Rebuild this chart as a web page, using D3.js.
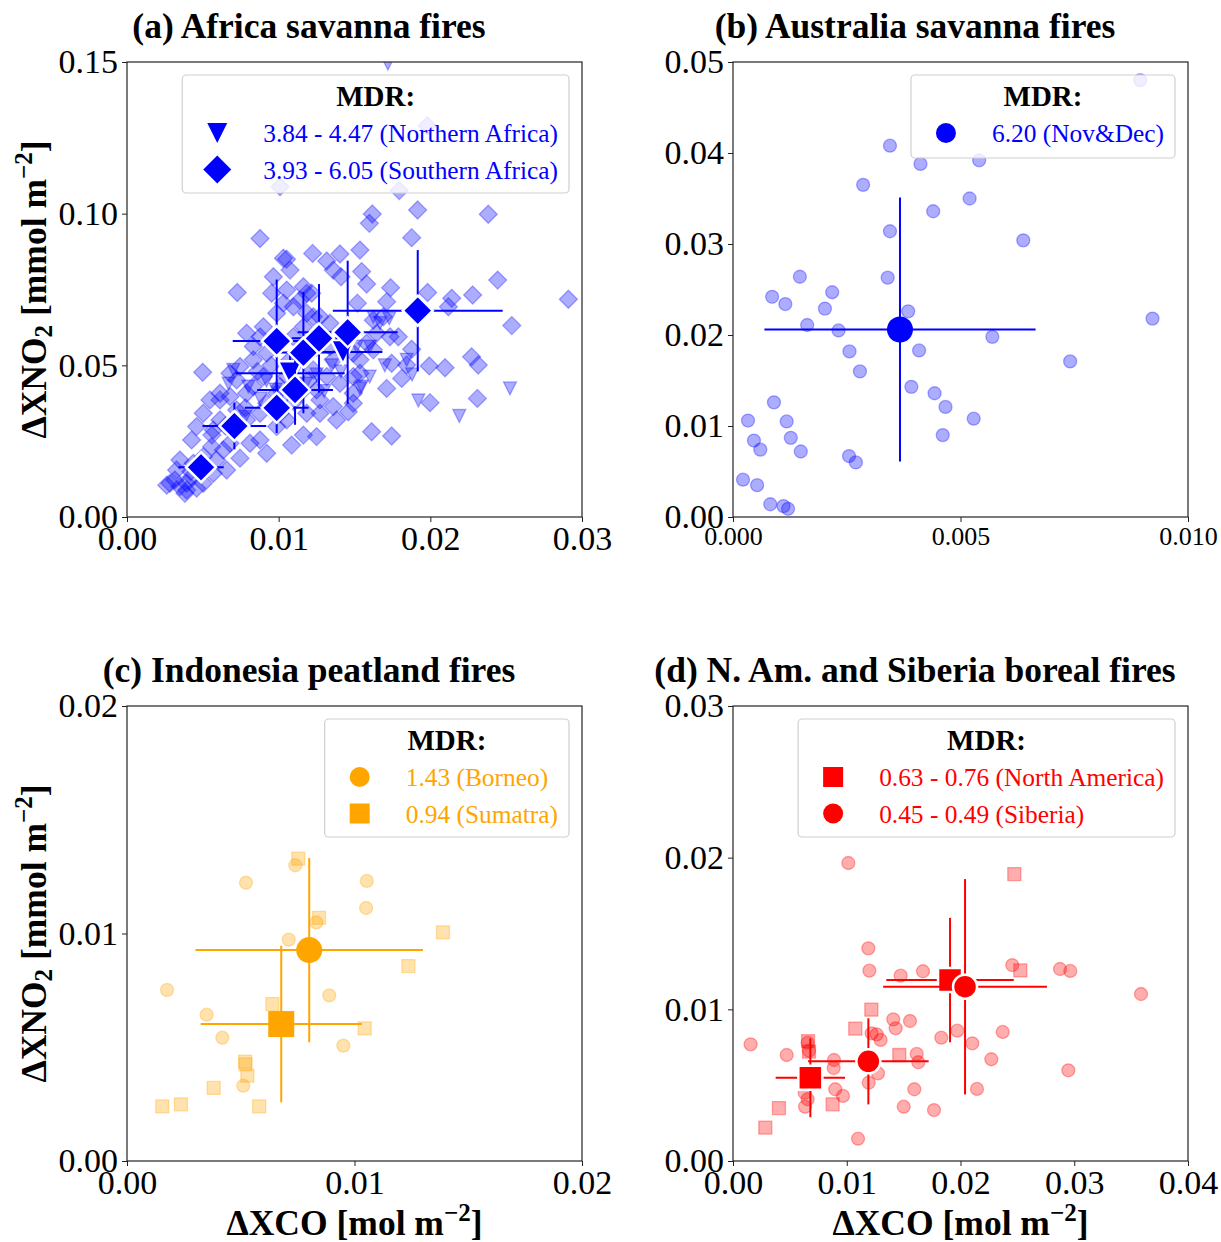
<!DOCTYPE html>
<html><head><meta charset="utf-8">
<script src="https://cdn.jsdelivr.net/npm/d3@7"></script>
<style>
body{margin:0;background:#fff}
svg{display:block}
text{font-family:"Liberation Serif","Times New Roman",serif}
</style>
</head><body>
<svg id="fig" width="1221" height="1242"></svg>
<script>
// ---- (a) Africa: individual fire events [ΔXCO, ΔXNO2] ----
const southAfricaPts = [
[0.01009,0.1089],[0.01795,0.1076],[0.0198,0.129],
[0.01617,0.0999],[0.01598,0.0968],[0.01916,0.1012],[0.02382,0.0998],[0.00877,0.0918],[0.01877,0.0921],
[0.01224,0.0869],[0.01031,0.0853],[0.01052,0.0850],[0.01317,0.0844],[0.01404,0.0867],[0.01536,0.0880],
[0.01360,0.0814],[0.01411,0.0792],[0.01547,0.0809],[0.01580,0.0768],[0.02444,0.0781],[0.01738,0.0756],
[0.00727,0.0740],[0.00965,0.0792],[0.01075,0.0814],[0.00954,0.0738],[0.01053,0.0748],[0.01163,0.0759],
[0.01218,0.0738],[0.01982,0.0740],[0.02141,0.0721],[0.02119,0.0693],[0.02279,0.0732],[0.02910,0.0718],
[0.02537,0.0631],[0.01519,0.0705],[0.01712,0.0710],[0.01734,0.0594],[0.01789,0.0594],[0.01877,0.0553],
[0.02272,0.0528],[0.02316,0.0501],[0.01993,0.0498],[0.02097,0.0492],[0.01745,0.0507],[0.01844,0.0501],
[0.01811,0.0457],[0.01712,0.0424],[0.01998,0.0377],[0.02310,0.0391],[0.01613,0.0281],[0.01745,0.0267],
[0.00499,0.0477],[0.01459,0.0347],[0.01382,0.0320],[0.01250,0.0265],[0.01163,0.0270],[0.01086,0.0237],
[0.00987,0.0298],[0.00877,0.0254],[0.00745,0.0194],[0.00657,0.0155],[0.00558,0.0232],[0.00426,0.0254],
[0.00283,0.0111],[0.00349,0.0100],[0.00382,0.0078],[0.00316,0.0122],[0.00393,0.0111],[0.00426,0.0133],
[0.00503,0.0111],[0.00591,0.0188],[0.00613,0.0320],[0.00723,0.0353],[0.00789,0.0408],[0.00723,0.0452],
[0.00833,0.0430],[0.00833,0.0518],[0.00877,0.0594],[0.00899,0.0627],[0.00789,0.0606],[0.00987,0.0672],
[0.01097,0.0693],[0.01185,0.0672],[0.01272,0.0660],[0.01338,0.0639],[0.01360,0.0518],[0.01317,0.0463],
[0.01404,0.0441],[0.01492,0.0463],[0.01536,0.0518],[0.01492,0.0375],[0.01272,0.0386],[0.01185,0.0342],
[0.01009,0.0342],[0.00921,0.0375],[0.00789,0.0320],[0.00679,0.0397],[0.00613,0.0386],[0.00569,0.0287],
[0.00679,0.0243],[0.00503,0.0199],[0.00811,0.0243],[0.00921,0.0210],[0.00745,0.0298],[0.01075,0.0518],
[0.01053,0.0463],[0.01228,0.0485],[0.01250,0.0419],[0.01141,0.0408],[0.00899,0.0463],[0.00921,0.0540],
[0.01097,0.0594],[0.01163,0.0627],[0.01228,0.0660],[0.01031,0.0705],[0.01141,0.0715],[0.01185,0.0738],
[0.00833,0.0562],[0.00745,0.0496],[0.00679,0.0474],[0.00613,0.0408],[0.00503,0.0342],[0.00547,0.0386],
[0.00459,0.0298],[0.00349,0.0188],[0.00437,0.0177],[0.00262,0.0105],[0.00393,0.0089],[0.00459,0.0095],
[0.01624,0.0649],[0.01690,0.0660],[0.01646,0.0606],[0.01580,0.0573],[0.01492,0.0540],[0.01492,0.0408],
[0.01536,0.0474],[0.01624,0.0551],[0.01338,0.0562],[0.00987,0.0408],[0.00877,0.0342],[0.01053,0.0320],
[0.01009,0.0430],[0.01272,0.0342],[0.01360,0.0364],[0.00635,0.0221],[0.00569,0.0144],[0.00327,0.0155],
[0.00860,0.0480],[0.00950,0.0500],[0.01120,0.0540],[0.01250,0.0560],[0.00700,0.0280],[0.00780,0.0360],
[0.00960,0.0350],[0.01100,0.0380],[0.01200,0.0450],[0.00560,0.0270],[0.00650,0.0300],[0.00420,0.0150]
];
const northAfricaPts = [
[0.0172,0.1495],[0.02525,0.0424],[0.02191,0.0333],[0.01921,0.0384],[0.01729,0.0655],[0.01668,0.0639],
[0.01624,0.0660],[0.01536,0.0424],[0.01844,0.0518],[0.00701,0.0485],[0.01602,0.0562],[0.01514,0.0562],
[0.01547,0.0430],[0.01600,0.0463],[0.0135,0.0500],[0.0125,0.0470],[0.0118,0.0440],[0.0098,0.0420],
[0.0092,0.0450],[0.0088,0.0390],[0.0105,0.0395],[0.0130,0.0415],[0.0141,0.0480],[0.0080,0.0430],
[0.0113,0.0500],[0.0170,0.0500],[0.0188,0.0470],[0.0078,0.0330],[0.0067,0.0440]
];
// regional means with one-sigma spread [x, y, xErr, yErr]
const northAfricaMeans = [[0.01075,0.0474,0.0036,0.0060],[0.01424,0.0544,0.0026,0.0040]];
const southAfricaMeans = [
[0.00488,0.0164,0.0015,0.0030],[0.00708,0.0300,0.0021,0.0077],[0.00987,0.0360,0.0021,0.0083],
[0.01108,0.0419,0.0025,0.0115],[0.00987,0.0580,0.0029,0.0203],[0.01163,0.0542,0.0020,0.0200],
[0.01266,0.0589,0.0018,0.0179],[0.01455,0.0609,0.0033,0.0236],[0.01917,0.0680,0.0056,0.0200]
];

// ---- (b) Australia ----
const australiaPts = [
[0.00345,0.0408],[0.00412,0.0388],[0.00541,0.0392],[0.00286,0.0365],[0.00520,0.0350],[0.00440,0.0336],
[0.00345,0.0314],[0.00638,0.0304],[0.00147,0.0264],[0.00340,0.0263],[0.00218,0.0247],[0.00086,0.0242],
[0.00115,0.0234],[0.00202,0.0229],[0.00385,0.0226],[0.00922,0.0218],[0.00163,0.0211],[0.00232,0.0205],
[0.00570,0.0198],[0.00256,0.0182],[0.00409,0.0183],[0.00741,0.0171],[0.00279,0.0160],[0.00392,0.0143],
[0.00443,0.0136],[0.00467,0.0121],[0.00529,0.0108],[0.00461,0.0090],[0.00090,0.0126],[0.00033,0.0106],
[0.00118,0.0105],[0.00046,0.0084],[0.00127,0.0087],[0.00060,0.0074],[0.00149,0.0072],[0.00255,0.0067],
[0.00270,0.0060],[0.00022,0.0041],[0.00053,0.0035],[0.00082,0.0014],[0.00111,0.0012],[0.00121,0.0009],
[0.00895,0.0480]
];
const australiaMeans = [[0.00367,0.0206,0.00298,0.0145]];

// ---- (c) Indonesia ----
const borneoPts = [
[0.00523,0.01223],[0.00740,0.01300],[0.01054,0.01231],[0.01051,0.01112],[0.00832,0.01049],[0.00711,0.00973],
[0.00176,0.00752],[0.00889,0.00728],[0.00350,0.00643],[0.00419,0.00542],[0.00951,0.00507],[0.00511,0.00331]
];
const sumatraPts = [
[0.00753,0.01329],[0.00844,0.01069],[0.01389,0.01005],[0.01237,0.00857],[0.00639,0.00690],[0.01045,0.00583],
[0.00519,0.00437],[0.00521,0.00425],[0.00529,0.00375],[0.00381,0.00321],[0.00155,0.00240],[0.00237,0.00249],
[0.00581,0.00240]
];
const borneoMeans = [[0.00801,0.00927,0.0050,0.00405]];
const sumatraMeans = [[0.00678,0.00602,0.00354,0.00344]];

// ---- (d) Boreal ----
const siberiaPts = [
[0.01014,0.01965],[0.01190,0.01402],[0.01199,0.01255],[0.01474,0.01222],[0.01670,0.01251],[0.02455,0.01292],
[0.02875,0.01266],[0.02965,0.01253],[0.03587,0.01101],[0.01409,0.00934],[0.01556,0.00923],[0.01430,0.00875],
[0.01219,0.00842],[0.01263,0.00835],[0.01298,0.00798],[0.01831,0.00813],[0.01972,0.00859],[0.02371,0.00851],
[0.02104,0.00776],[0.00155,0.00769],[0.00472,0.00699],[0.00656,0.00780],[0.00668,0.00727],[0.00888,0.00666],
[0.00885,0.00613],[0.01615,0.00706],[0.01629,0.00651],[0.01275,0.00578],[0.01193,0.00516],[0.02271,0.00671],
[0.02948,0.00598],[0.02145,0.00475],[0.01594,0.00473],[0.00899,0.00473],[0.00967,0.00429],[0.00656,0.00407],
[0.00633,0.00358],[0.00630,0.00450],[0.01501,0.00358],[0.01767,0.00336],[0.01099,0.00147]
];
const northAmericaPts = [
[0.02473,0.01892],[0.02526,0.01257],[0.01216,0.00998],[0.01075,0.00873],[0.01462,0.00699],[0.00668,0.00721],
[0.00876,0.00374],[0.00404,0.00349],[0.00284,0.00220],[0.00660,0.00790]
];
const northAmericaMeans = [[0.00680,0.00549,0.00305,0.00260],[0.01908,0.01193,0.00560,0.00410]];
const siberiaMeans = [[0.01190,0.00657,0.00530,0.00284],[0.02040,0.01149,0.00720,0.00710]];

// ---- tick values ----
const aXTicks = [0, 0.01, 0.02, 0.03], aYTicks = [0, 0.05, 0.10, 0.15];
const bXTicks = [0, 0.005, 0.010], bYTicks = [0, 0.01, 0.02, 0.03, 0.04, 0.05];
const cXTicks = [0, 0.01, 0.02], cYTicks = [0, 0.01, 0.02];
const dXTicks = [0, 0.01, 0.02, 0.03, 0.04], dYTicks = [0, 0.01, 0.02, 0.03];

// ---- legend labels ----
const aLegend = ["3.84 - 4.47 (Northern Africa)", "3.93 - 6.05 (Southern Africa)"];
const bLegend = ["6.20 (Nov&Dec)"];
const cLegend = ["1.43 (Borneo)", "0.94 (Sumatra)"];
const dLegend = ["0.63 - 0.76 (North America)", "0.45 - 0.49 (Siberia)"];

const BLUE = "#0000ff", ORANGE = "#ffa500", RED = "#ff0000";
const FONT = '"Liberation Serif","Times New Roman",serif';

const svg = d3.select("#fig");

function shapePath(kind, r) {
  if (kind === "circle") return `M${r},0A${r},${r} 0 1,1 ${-r},0A${r},${r} 0 1,1 ${r},0Z`;
  if (kind === "square") return `M${-r},${-r}H${r}V${r}H${-r}Z`;
  if (kind === "diamond") return `M0,${-r}L${r},0L0,${r}L${-r},0Z`;
  // downward triangle
  return `M${-r},${-r}L${r},${-r}L0,${r}Z`;
}

let clipId = 0;
function makePanel(cfg) {
  const W = 455, H = 455;
  const g = svg.append("g").attr("transform", `translate(${cfg.left},${cfg.top})`);
  const x = d3.scaleLinear().domain(cfg.xDomain).range([0, W]);
  const y = d3.scaleLinear().domain(cfg.yDomain).range([H, 0]);

  const id = "clip" + (clipId++);
  g.append("clipPath").attr("id", id).append("rect").attr("width", W).attr("height", H);
  const plot = g.append("g").attr("clip-path", `url(#${id})`);

  // axes
  const xa = g.append("g").attr("transform", `translate(0,${H})`)
    .call(d3.axisBottom(x).tickValues(cfg.xTicks).tickFormat(d3.format(cfg.xFmt)).tickSize(5).tickPadding(cfg.xPad));
  const ya = g.append("g")
    .call(d3.axisLeft(y).tickValues(cfg.yTicks).tickFormat(d3.format(cfg.yFmt)).tickSize(5).tickPadding(4));
  [xa, ya].forEach(a => {
    a.select(".domain").remove();
    a.selectAll("line").attr("stroke", "#222").attr("stroke-width", 1);
    a.selectAll("text").attr("fill", "#000").style("font-family", FONT);
  });
  xa.selectAll("text").style("font-size", cfg.xTickFont + "px");
  ya.selectAll("text").style("font-size", "34px");
  g.append("rect").attr("width", W).attr("height", H).attr("fill", "none")
    .attr("stroke", "#222").attr("stroke-width", 1.2);

  // title
  svg.append("text").attr("x", cfg.left + 182).attr("y", cfg.top - 24)
    .attr("text-anchor", "middle").style("font-size", "35.5px").style("font-weight", "bold")
    .text(cfg.title);

  if (cfg.yLabel) {
    const t = svg.append("text")
      .attr("transform", `translate(${cfg.left - 81},${cfg.top + H / 2}) rotate(-90)`)
      .attr("text-anchor", "middle").style("font-size", "35.5px").style("font-weight", "bold");
    t.append("tspan").text("ΔXNO");
    t.append("tspan").text("2").style("font-size", "25px").attr("dy", 6);
    t.append("tspan").text(" [mmol m").attr("dy", -6);
    t.append("tspan").text("−2").style("font-size", "25px").attr("dy", -14);
    t.append("tspan").text("]").attr("dy", 14);
  }
  if (cfg.xLabel) {
    const t = svg.append("text")
      .attr("x", cfg.left + W / 2).attr("y", cfg.top + H + 74)
      .attr("text-anchor", "middle").style("font-size", "35.5px").style("font-weight", "bold");
    t.append("tspan").text("ΔXCO [mol m");
    t.append("tspan").text("−2").style("font-size", "25px").attr("dy", -14);
    t.append("tspan").text("]").attr("dy", 14);
  }
  return {g, plot, x, y, W, H};
}

function scatter(p, pts, kind, r, color) {
  p.plot.append("g").selectAll("path").data(pts).join("path")
    .attr("transform", d => `translate(${p.x(d[0])},${p.y(d[1])})`)
    .attr("d", shapePath(kind, r))
    .attr("fill", color).attr("fill-opacity", 0.32)
    .attr("stroke", color).attr("stroke-opacity", 0.32).attr("stroke-width", 1.3);
}

function means(p, rows, kind, r, color, edge) {
  const gg = p.plot.append("g");
  rows.forEach(d => {
    const cx = p.x(d[0]), cy = p.y(d[1]);
    gg.append("line").attr("x1", p.x(d[0] - d[2])).attr("x2", p.x(d[0] + d[2]))
      .attr("y1", cy).attr("y2", cy).attr("stroke", color).attr("stroke-width", 2);
    gg.append("line").attr("x1", cx).attr("x2", cx)
      .attr("y1", p.y(d[1] - d[3])).attr("y2", p.y(d[1] + d[3])).attr("stroke", color).attr("stroke-width", 2);
  });
  rows.forEach(d => {
    gg.append("path").attr("transform", `translate(${p.x(d[0])},${p.y(d[1])})`)
      .attr("d", shapePath(kind, r)).attr("fill", color)
      .attr("stroke", edge ? "#fff" : "none").attr("stroke-width", edge ? 2.5 : 0);
  });
}

function legend(p, entries, color) {
  const lg = p.g.append("g");
  const box = lg.append("rect");
  const title = lg.append("text").style("font-size", "29px").style("font-weight", "bold").text("MDR:");
  const texts = entries.map((e, i) => lg.append("text").style("font-size", "25.4px")
      .attr("fill", color).text(e.label));
  const tw = d3.max(texts, t => t.node().getComputedTextLength());
  const bw = 81 + tw + 11;
  const bx = p.W - 13 - bw, by = 13;
  const bh = entries.length === 1 ? 83 : 118;
  box.attr("x", bx).attr("y", by).attr("width", bw).attr("height", bh).attr("rx", 4)
    .attr("fill", "#fff").attr("fill-opacity", 0.8).attr("stroke", "#d0d0d0").attr("stroke-width", 1.2);
  title.attr("x", bx + bw / 2).attr("y", by + 31).attr("text-anchor", "middle");
  texts.forEach((t, i) => t.attr("x", bx + 81).attr("y", by + 67 + i * 36.5));
  entries.forEach((e, i) => {
    lg.append("path").attr("transform", `translate(${bx + 35},${by + 58 + i * 36.5})`)
      .attr("d", shapePath(e.kind, e.r)).attr("fill", color);
  });
}

// (a)
const pa = makePanel({left:127, top:62, xDomain:[0,0.03], yDomain:[0,0.15], xTicks:aXTicks, yTicks:aYTicks,
  xFmt:".2f", yFmt:".2f", xTickFont:34, xPad:4, title:"(a) Africa savanna fires", yLabel:true, xLabel:false});
scatter(pa, northAfricaPts, "tri", 6.5, BLUE);
scatter(pa, southAfricaPts, "diamond", 9, BLUE);
means(pa, northAfricaMeans, "tri", 12, BLUE, true);
means(pa, southAfricaMeans, "diamond", 15, BLUE, true);
legend(pa, [{label:aLegend[0], kind:"tri", r:10}, {label:aLegend[1], kind:"diamond", r:14}], BLUE);

// (b)
const pb = makePanel({left:733, top:62, xDomain:[0,0.010], yDomain:[0,0.05], xTicks:bXTicks, yTicks:bYTicks,
  xFmt:".3f", yFmt:".2f", xTickFont:26, xPad:5, title:"(b) Australia savanna fires", yLabel:false, xLabel:false});
scatter(pb, australiaPts, "circle", 6.5, BLUE);
means(pb, australiaMeans, "circle", 13, BLUE, false);
legend(pb, [{label:bLegend[0], kind:"circle", r:10}], BLUE);

// (c)
const pc = makePanel({left:127, top:706, xDomain:[0,0.02], yDomain:[0,0.02], xTicks:cXTicks, yTicks:cYTicks,
  xFmt:".2f", yFmt:".2f", xTickFont:34, xPad:4, title:"(c) Indonesia peatland fires", yLabel:true, xLabel:true});
scatter(pc, borneoPts, "circle", 6.5, ORANGE);
scatter(pc, sumatraPts, "square", 6.5, ORANGE);
means(pc, borneoMeans, "circle", 13, ORANGE, false);
means(pc, sumatraMeans, "square", 13, ORANGE, false);
legend(pc, [{label:cLegend[0], kind:"circle", r:10}, {label:cLegend[1], kind:"square", r:10}], ORANGE);

// (d)
const pd = makePanel({left:733, top:706, xDomain:[0,0.04], yDomain:[0,0.03], xTicks:dXTicks, yTicks:dYTicks,
  xFmt:".2f", yFmt:".2f", xTickFont:34, xPad:4, title:"(d) N. Am. and Siberia boreal fires", yLabel:false, xLabel:true});
scatter(pd, siberiaPts, "circle", 6.5, RED);
scatter(pd, northAmericaPts, "square", 6.5, RED);
means(pd, northAmericaMeans, "square", 12, RED, true);
means(pd, siberiaMeans, "circle", 12, RED, true);
legend(pd, [{label:dLegend[0], kind:"square", r:10}, {label:dLegend[1], kind:"circle", r:10}], RED);
</script>
</body></html>
